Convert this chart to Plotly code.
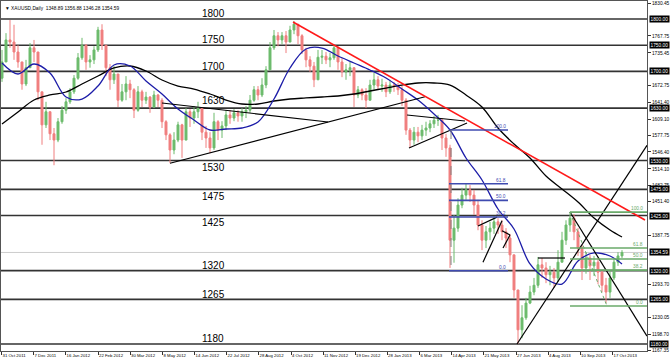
import plotly.graph_objects as go

# ---------------- data ----------------
symbol_title = "XAUUSD,Daily  1348.89 1356.88 1346.28 1354.59"
first_open = 1687
closes = [1718, 1760, 1756, 1737, 1718, 1676, 1707, 1745, 1737, 1661,
          1598, 1623, 1581, 1569, 1604, 1626, 1642, 1661, 1687, 1726,
          1750, 1718, 1722, 1741, 1779, 1750, 1707, 1684, 1695, 1645,
          1661, 1676, 1665, 1626, 1661, 1645, 1651, 1632, 1655, 1645,
          1604, 1579, 1550, 1569, 1598, 1569, 1623, 1611, 1623, 1630,
          1584, 1573, 1554, 1604, 1588, 1596, 1617, 1611, 1621, 1615,
          1623, 1626, 1645, 1665, 1655, 1674, 1703, 1745, 1768, 1760,
          1768, 1756, 1779, 1790, 1768, 1741, 1722, 1710, 1684, 1727,
          1729, 1722, 1726, 1745, 1718, 1699, 1703, 1707, 1655, 1665,
          1655, 1645, 1674, 1684, 1672, 1674, 1661, 1674, 1672, 1665,
          1645, 1588, 1569, 1584, 1577, 1588, 1592, 1600, 1607, 1607,
          1573, 1554, 1378, 1401, 1445, 1464, 1474, 1464, 1445, 1407,
          1378, 1394, 1401, 1413, 1407, 1394, 1382, 1350, 1283, 1207,
          1230, 1258, 1279, 1292, 1331, 1325, 1312, 1317, 1306, 1336,
          1378, 1407, 1420, 1394, 1363, 1325, 1344, 1329, 1336, 1317,
          1292, 1279, 1306, 1336, 1348, 1354.59]
highs = [1741, 1773, 1798, 1789, 1750, 1718, 1722, 1754, 1760, 1731,
         1655, 1642, 1623, 1592, 1611, 1634, 1649, 1668, 1693, 1735,
         1764, 1752, 1731, 1748, 1785, 1790, 1750, 1714, 1710, 1691,
         1676, 1691, 1684, 1668, 1672, 1665, 1661, 1653, 1663, 1657,
         1649, 1607, 1582, 1584, 1604, 1600, 1630, 1628, 1634, 1642,
         1630, 1596, 1584, 1621, 1607, 1605, 1626, 1626, 1628, 1626,
         1630, 1634, 1655, 1672, 1672, 1687, 1710, 1756, 1779, 1775,
         1775, 1777, 1787, 1796, 1790, 1771, 1745, 1729, 1718, 1741,
         1741, 1737, 1735, 1750, 1748, 1726, 1714, 1718, 1707, 1672,
         1668, 1668, 1684, 1697, 1691, 1686, 1680, 1684, 1680, 1678,
         1672, 1649, 1592, 1594, 1594, 1598, 1604, 1607, 1615, 1617,
         1611, 1581, 1560, 1426, 1458, 1478, 1487, 1483, 1474, 1455,
         1416, 1405, 1413, 1424, 1420, 1416, 1401, 1390, 1350, 1283,
         1254, 1268, 1291, 1306, 1346, 1344, 1336, 1329, 1325, 1359,
         1394, 1416, 1432, 1428, 1401, 1369, 1355, 1350, 1348, 1344,
         1321, 1306, 1321, 1344, 1355, 1359]
lows = [1680, 1726, 1745, 1722, 1707, 1665, 1672, 1707, 1718, 1645,
        1560, 1592, 1569, 1521, 1565, 1600, 1619, 1638, 1657, 1684,
        1722, 1703, 1707, 1714, 1737, 1741, 1691, 1665, 1676, 1632,
        1642, 1645, 1649, 1611, 1623, 1632, 1638, 1621, 1630, 1632,
        1592, 1569, 1525, 1542, 1565, 1535, 1569, 1594, 1600, 1611,
        1569, 1554, 1544, 1550, 1569, 1573, 1588, 1600, 1605, 1604,
        1604, 1611, 1621, 1642, 1645, 1651, 1668, 1707, 1741, 1748,
        1752, 1735, 1760, 1771, 1752, 1733, 1708, 1699, 1670, 1687,
        1714, 1714, 1708, 1722, 1703, 1689, 1684, 1691, 1632, 1649,
        1645, 1630, 1645, 1665, 1665, 1661, 1651, 1657, 1661, 1655,
        1634, 1579, 1554, 1560, 1565, 1569, 1577, 1584, 1592, 1596,
        1550, 1537, 1325, 1335, 1394, 1439, 1455, 1451, 1426, 1397,
        1359, 1363, 1378, 1390, 1390, 1378, 1363, 1336, 1268, 1180,
        1191, 1226, 1256, 1273, 1287, 1306, 1296, 1292, 1287, 1298,
        1336, 1369, 1394, 1378, 1348, 1302, 1314, 1302, 1310, 1294,
        1279, 1258, 1268, 1302, 1329, 1344]
DAYS_PER_CANDLE = 4

# moving averages sampled every 4th candle (plus the last one)
ma_fast = [1716.0, 1695.0, 1714.1, 1696.9, 1651.2, 1647.3, 1672.1, 1712.2, 1710.3, 1681.7,
           1656.9, 1628.3, 1607.3, 1588.2, 1590.1, 1592.0, 1603.5, 1647.3, 1706.5, 1742.7,
           1744.6, 1729.4, 1716.0, 1702.7, 1687.4, 1666.4, 1645.4, 1618.7, 1588.2, 1534.8,
           1492.8, 1437.5, 1399.3, 1332.6, 1304.0, 1294.4, 1338.3, 1353.6, 1347.8, 1332.6]
ma_slow = [1599.6, 1622.5, 1645.4, 1655.0, 1660.7, 1676.0, 1691.2, 1706.5, 1710.3, 1700.8,
           1683.6, 1672.1, 1666.4, 1656.9, 1645.4, 1637.8, 1637.8, 1643.5, 1647.3, 1649.3,
           1651.2, 1653.1, 1656.9, 1662.6, 1668.3, 1674.0, 1677.9, 1677.9, 1674.0, 1655.0,
           1632.1, 1592.0, 1561.5, 1534.8, 1500.4, 1475.7, 1450.8, 1420.3, 1397.4, 1384.1]

# horizontal support / resistance levels and their text labels
levels = [1800, 1750, 1700, 1630, 1530, 1475, 1425, 1320, 1265, 1180]
level_label_prices = [1810.5, 1760.8, 1709.3, 1645.4, 1516.6, 1460.4, 1412.7, 1329.7, 1274.4, 1191.4]
level_label_day = 199
last_price = 1354.59

# trendlines: (day index, price) anchor pairs
black_trendlines = [
    ((169.5, 1524.7), (424.5, 1651.7)),
    ((161.5, 1639.7), (327.5, 1603.5)),
    ((406.5, 1616.8), (464.5, 1605.4)),
    ((408.5, 1553.9), (466.5, 1601.6)),
    ((477.5, 1405.0), (496.5, 1422.0)),
    ((482.5, 1336.0), (501.5, 1415.0)),
    ((501.5, 1396.0), (509.5, 1388.0)),
    ((502.5, 1363.0), (509.5, 1388.0)),
    ((537.5, 1344.0), (564.5, 1344.0)),
    ((516.5, 1180.0), (646.5, 1559.0)),
    ((569.5, 1431.8), (646.5, 1195.0)),
]
red_trendline = ((292.5, 1794.2), (644.5, 1416.5))

# Fibonacci retracements
fib_ratios = [100.0, 61.8, 50.0, 38.2, 0.0]
fib1 = dict(high=1588.2, low=1319.8, start=448.5, end=507.5, anchor=450.5)
fib2 = dict(high=1431.5, low=1252.5, start=569.5, end=646.5, anchor_hi=569.5, anchor_lo=606.5)

# price axis ticks and date axis ticks
price_ticks = [1830.45, 1767.75, 1735.45, 1672.75, 1641.40, 1609.10, 1577.75, 1546.40,
               1514.10, 1482.75, 1451.40, 1387.75, 1293.70, 1230.05, 1198.70, 1167.35]
date_labels = ["31 Oct 2011", "7 Dec 2011", "16 Jan 2012", "22 Feb 2012", "30 Mar 2012",
               "8 May 2012", "14 Jun 2012", "22 Jul 2012", "28 Aug 2012", "4 Oct 2012",
               "11 Nov 2012", "19 Dec 2012", "28 Jan 2013", "6 Mar 2013", "14 Apr 2013",
               "21 May 2013", "27 Jun 2013", "4 Aug 2013", "10 Sep 2013", "17 Oct 2013"]
date_label_days = [1, 33, 65, 97.5, 129.5, 162, 194, 226, 258, 290.5, 322.5, 354.5,
                   386.5, 419, 451, 483, 515.5, 547.5, 579.5, 612]

# ---------------- styling ----------------
FONT = "Liberation Sans, Arial, sans-serif"
GREEN = "#6dbb6d"
RED = "#f07f7f"
BLUE_MA = "#1c1ca8"
FIB1_C = "#3f4bb0"
FIB2_C = "#6aaa6a"
LEVEL_C = "#333333"

n = len(closes)
opens = [first_open] + closes[:-1]
hi = [max(h, o, c) for h, o, c in zip(highs, opens, closes)]
lo = [min(l, o, c) for l, o, c in zip(lows, opens, closes)]
xs = [DAYS_PER_CANDLE * i + 1.5 for i in range(n)]
ma_idx = list(range(0, n, 4)) + [n - 1]
ma_x = [xs[i] for i in ma_idx]

fig = go.Figure()

fig.add_trace(go.Candlestick(
    x=xs, open=opens, high=hi, low=lo, close=closes,
    increasing=dict(line=dict(color=GREEN, width=1), fillcolor=GREEN),
    decreasing=dict(line=dict(color=RED, width=1), fillcolor=RED),
    whiskerwidth=0, showlegend=False, hoverinfo="skip"))

fig.add_trace(go.Scatter(x=ma_x, y=ma_slow, mode="lines", line=dict(color="black", width=1.3, shape="spline"),
                         showlegend=False, hoverinfo="skip"))
fig.add_trace(go.Scatter(x=ma_x, y=ma_fast, mode="lines", line=dict(color=BLUE_MA, width=1.3, shape="spline"),
                         showlegend=False, hoverinfo="skip"))

for (a, b) in black_trendlines:
    fig.add_trace(go.Scatter(x=[a[0], b[0]], y=[a[1], b[1]], mode="lines",
                             line=dict(color="black", width=1.2), showlegend=False, hoverinfo="skip"))
fig.add_trace(go.Scatter(x=[red_trendline[0][0], red_trendline[1][0]],
                         y=[red_trendline[0][1], red_trendline[1][1]], mode="lines",
                         line=dict(color="#ff1a1a", width=1.6), showlegend=False, hoverinfo="skip"))

shapes = []
annotations = []

# horizontal levels
for lv in levels:
    shapes.append(dict(type="line", xref="paper", x0=0, x1=1, yref="y", y0=lv, y1=lv,
                       line=dict(color=LEVEL_C, width=1.6), layer="below"))
shapes.append(dict(type="line", xref="paper", x0=0, x1=1, yref="y", y0=last_price, y1=last_price,
                   line=dict(color="#cccccc", width=1), layer="below"))

for lv, lp in zip(levels, level_label_prices):
    annotations.append(dict(x=level_label_day, y=lp, xref="x", yref="y", text=str(lv), showarrow=False,
                            xanchor="left", yanchor="middle", font=dict(family=FONT, size=10, color="black")))

# Fibonacci 1 (blue)
rng1 = fib1["high"] - fib1["low"]
for r in fib_ratios:
    p = fib1["low"] + rng1 * r / 100.0
    fig.add_trace(go.Scatter(x=[fib1["start"], fib1["end"]], y=[p, p], mode="lines",
                             line=dict(color=FIB1_C, width=1.6), showlegend=False, hoverinfo="skip"))
    annotations.append(dict(x=fib1["end"], y=p, xref="x", yref="y", text=f"{r:.1f}", showarrow=False,
                            xanchor="right", yanchor="bottom", yshift=-1,
                            font=dict(family=FONT, size=4.8, color=FIB1_C)))
fig.add_trace(go.Scatter(x=[fib1["anchor"], fib1["anchor"]], y=[fib1["high"], fib1["low"]], mode="lines",
                         line=dict(color="#808080", width=1, dash="dash"), showlegend=False, hoverinfo="skip"))

# Fibonacci 2 (green)
rng2 = fib2["high"] - fib2["low"]
for r in fib_ratios:
    p = fib2["low"] + rng2 * r / 100.0
    fig.add_trace(go.Scatter(x=[fib2["start"], fib2["end"]], y=[p, p], mode="lines",
                             line=dict(color=FIB2_C, width=1.6), showlegend=False, hoverinfo="skip"))
    annotations.append(dict(x=fib2["end"] - 2, y=p, xref="x", yref="y", text=f"{r:.1f}", showarrow=False,
                            xanchor="right", yanchor="bottom", yshift=-1,
                            font=dict(family=FONT, size=4.8, color=FIB2_C)))
fig.add_trace(go.Scatter(x=[fib2["anchor_hi"], fib2["anchor_lo"]], y=[fib2["high"], fib2["low"]], mode="lines",
                         line=dict(color=FIB2_C, width=1, dash="dot"), showlegend=False, hoverinfo="skip"))

# price boxes on the right axis
for lv in levels + [last_price]:
    annotations.append(dict(x=1, y=lv, xref="paper", yref="y", text=f"{lv:.2f}", showarrow=False,
                            xanchor="left", yanchor="middle", xshift=2, bgcolor="black", borderpad=0.5,
                            font=dict(family=FONT, size=4.8, color="white")))

# title
annotations.append(dict(x=0, y=1, xref="paper", yref="paper", text="▼ " + symbol_title, showarrow=False,
                        xanchor="left", yanchor="top", xshift=2, yshift=-3,
                        font=dict(family=FONT, size=4.8, color="black")))

fig.update_layout(
    width=670, height=362,
    margin=dict(l=1, r=23, t=1, b=11),
    paper_bgcolor="white", plot_bgcolor="white",
    shapes=shapes, annotations=annotations,
    showlegend=False,
    xaxis=dict(range=[0.5, 646.5], showgrid=False, zeroline=False, rangeslider=dict(visible=False),
               tickmode="array", tickvals=date_label_days, ticktext=date_labels, tickangle=0,
               ticks="outside", ticklen=3, tickcolor="#333", ticklabelposition="outside right",
               tickfont=dict(family=FONT, size=4.3, color="black"), automargin=False,
               showline=True, linecolor="#555", linewidth=1, mirror=True),
    yaxis=dict(range=[1166.6, 1834.3], side="right", showgrid=False, zeroline=False,
               tickmode="array", tickvals=price_ticks, ticktext=[f"{v:.2f}" for v in price_ticks],
               ticks="outside", ticklen=3, tickcolor="#333", automargin=False,
               tickfont=dict(family=FONT, size=4.8, color="black"),
               showline=True, linecolor="#555", linewidth=1, mirror=True),
)

fig.write_html("out.html", config={"displayModeBar": False},
               post_script="document.body.style.margin='0px';document.body.style.overflow='hidden';")
